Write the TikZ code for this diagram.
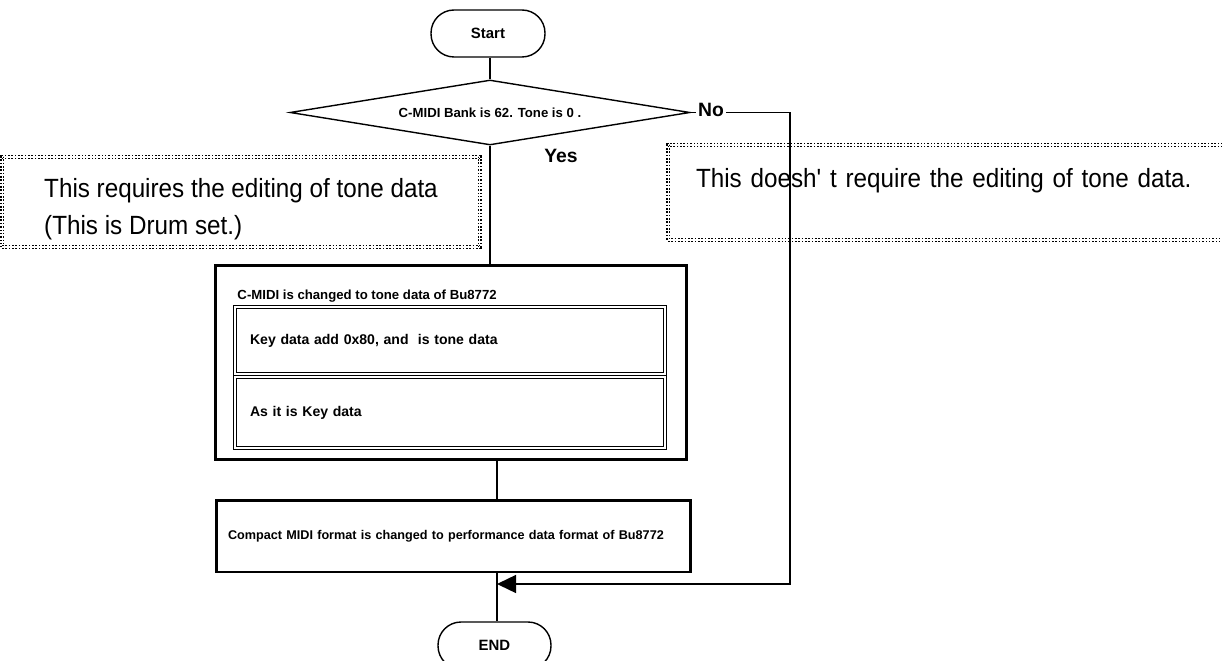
\documentclass[tikz,border=0pt]{standalone}
\usepackage{fontspec}
\setmainfont{Liberation Sans}
\newfontfamily\notefont{Liberation Sans}[FakeStretch=0.92]
\usetikzlibrary{shapes.geometric, arrows.meta}
\usetikzlibrary{positioning}
\tikzstyle{term_node} = [
    draw=black,
    line width=0.8pt,
    rounded corners=0.46cm,
    minimum width=2.28cm,
    minimum height=0.94cm,
    font=\fontsize{8.5}{10}\selectfont\bfseries
]
\tikzstyle{decide_node} = [
    diamond,
    draw=black,
    line width=0.8pt,
    aspect=6.2,
    inner sep=0pt,
    minimum width=8cm,
    minimum height=1.3cm,
    font=\fontsize{7.5}{9}\selectfont\bfseries
]
\tikzstyle{note_box} = [
    draw=black,
    densely dotted,
    double,
    double distance=0.6pt,
    line width=0.9pt,
    align=left,
    font=\notefont\fontsize{15}{21}\selectfont
]
\tikzstyle{proc_box} = [
    draw=black,
    line width=1.7pt,
    align=left,
    font=\fontsize{7.5}{9}\selectfont\bfseries
]
\tikzstyle{sub_box} = [
    draw=black,
    double,
    double distance=1.3pt,
    line width=0.5pt,
    align=left,
    minimum width=8.6cm,
    inner xsep=0.3cm,
    text width=8cm,
    font=\fontsize{8}{9}\selectfont\bfseries
]
\tikzstyle{lbl_txt} = [
    inner sep=1pt,
    font=\fontsize{11}{13}\selectfont\bfseries
]

\begin{document}
\begin{tikzpicture}[x=0.02cm, y=-0.02cm, line width=0.8pt]
\useasboundingbox (0,0) rectangle (1222,661);

% terminals and decision
\node [term_node] (start) at (488,33.5) {Start};
\node [decide_node] (bankq) at (490,112.5) {C-MIDI Bank is 62. Tone is 0 .};

% notes
\node [note_box, minimum width=9.56cm, minimum height=1.8cm] (neededit) at (241,202)
    {\rule{0pt}{19pt}This requires the editing of tone data\\(This is Drum set.)};
\node [note_box, minimum width=11.24cm, minimum height=1.9cm,
    inner xsep=0.56cm, text width=10.12cm] (noedit) at (949,192.5)
    {This doesh' t require the editing of tone data.\rule[-17pt]{0pt}{17pt}};

% conversion block
\node [proc_box, minimum width=9.44cm, minimum height=3.9cm] (convert) at (451,362.5) {};
\node [proc_box, draw=none, anchor=west, inner sep=0pt] (convtitle) at (236,296)
    {C-MIDI is changed to tone data of Bu8772};
\node [sub_box, minimum height=1.34cm] (addkey) at (450,340.5)
    {Key data add 0x80, and\ \ is tone data};
\node [sub_box, minimum height=1.42cm] (askey) at (450,412.5)
    {As it is Key data};

\node [proc_box, minimum width=9.5cm, minimum height=1.44cm,
    inner xsep=0.24cm, text width=9.02cm, font=\fontsize{7.2}{9}\selectfont\bfseries]
    (compact) at (453.5,536)
    {Compact MIDI format is changed to performance data format of Bu8772};

\node [term_node, minimum width=2.26cm] (finish) at (494.5,645.5) {END};

% connectors
\coordinate (nocorner) at (790,112.5);
\coordinate (joinpt) at (497,584);
\draw (start.south -| bankq.north) -- (bankq.north);
\draw (bankq.south) -- (bankq.south |- convert.north);
\draw (joinpt |- convert.south) -- (joinpt |- compact.north);
\draw (joinpt |- compact.south) -- (joinpt |- finish.north);
\draw [-{Triangle[length=0.38cm, width=0.36cm]}] (bankq.east) -- (nocorner) |- (joinpt);

\node [lbl_txt, fill=white] (nolbl) at (711,110) {No};
\node [lbl_txt] (yeslbl) at (561,156) {Yes};
\end{tikzpicture}
\end{document}
